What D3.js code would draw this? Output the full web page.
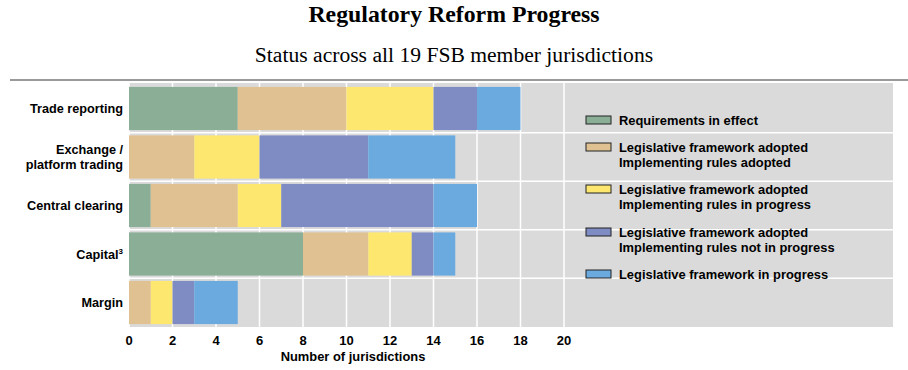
<!DOCTYPE html>
<html>
<head>
<meta charset="utf-8">
<script src="https://cdn.jsdelivr.net/npm/d3@7"></script>
<style>
  body { margin: 0; background: #fff; }
  svg text { font-family: "Liberation Sans", Arial, sans-serif; fill: #000; font-weight: bold; }
  svg text.title { font-family: "Liberation Serif", "Times New Roman", serif; }
</style>
</head>
<body>
<svg id="chart"></svg>
<script>
// Chart data
const categories = ["Trade reporting", "Exchange / platform trading", "Central clearing", "Capital", "Margin"];
const seriesNames = [
  "Requirements in effect",
  "Legislative framework adopted Implementing rules adopted",
  "Legislative framework adopted Implementing rules in progress",
  "Legislative framework adopted Implementing rules not in progress",
  "Legislative framework in progress"
];
const inEffect = [5, 0, 1, 8, 0];
const rulesAdopted = [5, 3, 4, 3, 1];
const rulesInProgress = [4, 3, 2, 2, 1];
const rulesNotInProgress = [2, 5, 7, 1, 1];
const frameworkInProgress = [2, 4, 2, 1, 2];
const xTicks = [0, 2, 4, 6, 8, 10, 12, 14, 16, 18, 20];

const colors = ["#8aae96", "#e0c192", "#fde76e", "#7f8bc3", "#6aaadf"];

const width = 908;
const height = 370;

const svg = d3.select("#chart").attr("width", width).attr("height", height);

// Titles
svg.append("text")
  .attr("class", "title")
  .attr("x", 454)
  .attr("y", 22)
  .attr("text-anchor", "middle")
  .style("font-size", "23.8px")
  .text("Regulatory Reform Progress");

svg.append("text")
  .attr("class", "title")
  .attr("x", 454)
  .attr("y", 62)
  .attr("text-anchor", "middle")
  .style("font-size", "21.6px")
  .style("font-weight", "normal")
  .text("Status across all 19 FSB member jurisdictions");

// Separator line
svg.append("line")
  .attr("x1", 10).attr("x2", 908)
  .attr("y1", 80).attr("y2", 80)
  .attr("stroke", "#9a9a9a")
  .attr("stroke-width", 2);

// Scales
const x = d3.scaleLinear().domain([0, 20]).range([129, 564]);
const y = d3.scaleBand()
  .domain(categories)
  .range([84, 327])
  .paddingInner(0.11)
  .paddingOuter(0.06);

// Plot background (extends under the legend)
svg.append("rect")
  .attr("x", x(0))
  .attr("y", 83)
  .attr("width", 893 - x(0))
  .attr("height", 327 - 83)
  .attr("fill", "#dadada");

// Vertical gridlines
svg.append("g")
  .selectAll("line")
  .data(xTicks)
  .enter()
  .append("line")
  .attr("x1", (d) => x(d)).attr("x2", (d) => x(d))
  .attr("y1", 83).attr("y2", 327)
  .attr("stroke", "#fff")
  .attr("stroke-width", 1.5);

// Horizontal gridlines between categories
const gap = y.step() * y.paddingInner();
svg.append("g")
  .selectAll("line")
  .data(categories.slice(1))
  .enter()
  .append("line")
  .attr("x1", x(0)).attr("x2", 893)
  .attr("y1", (d) => y(d) - gap / 2)
  .attr("y2", (d) => y(d) - gap / 2)
  .attr("stroke", "#fff")
  .attr("stroke-width", 1.5);

// Stacked bars
const rows = categories.map((c, i) => ({
  category: c,
  s0: inEffect[i],
  s1: rulesAdopted[i],
  s2: rulesInProgress[i],
  s3: rulesNotInProgress[i],
  s4: frameworkInProgress[i]
}));
const stacked = d3.stack().keys(["s0", "s1", "s2", "s3", "s4"])(rows);

svg.append("g")
  .selectAll("g")
  .data(stacked)
  .enter()
  .append("g")
  .attr("fill", (d, i) => colors[i])
  .selectAll("rect")
  .data((d) => d)
  .enter()
  .append("rect")
  .attr("x", (d) => x(d[0]))
  .attr("y", (d) => y(d.data.category))
  .attr("width", (d) => x(d[1]) - x(d[0]))
  .attr("height", y.bandwidth());

// Category labels
const labelGroup = svg.append("g").style("font-size", "12.7px");
categories.forEach((c) => {
  const cy = y(c) + y.bandwidth() / 2;
  const t = labelGroup.append("text")
    .attr("x", 123)
    .attr("y", cy + 4.5)
    .attr("text-anchor", "end");
  if (c === "Exchange / platform trading") {
    t.attr("y", null);
    t.append("tspan").attr("x", 123).attr("y", cy - 2.5).text("Exchange /");
    t.append("tspan").attr("x", 123).attr("y", cy + 12.5).text("platform trading");
  } else if (c === "Capital") {
    t.append("tspan").text("Capital");
    t.append("tspan").attr("dy", -5).style("font-size", "8px").text("3");
  } else {
    t.text(c);
  }
});

// X axis labels
svg.append("g")
  .style("font-size", "13px")
  .selectAll("text")
  .data(xTicks)
  .enter()
  .append("text")
  .attr("x", (d) => x(d))
  .attr("y", 345)
  .attr("text-anchor", "middle")
  .text((d) => d);

svg.append("text")
  .attr("x", 353)
  .attr("y", 361)
  .attr("text-anchor", "middle")
  .style("font-size", "12.9px")
  .text("Number of jurisdictions");

// Legend
const legendItems = [
  { lines: ["Requirements in effect"], y: 120 },
  { lines: ["Legislative framework adopted", "Implementing rules adopted"], y: 147 },
  { lines: ["Legislative framework adopted", "Implementing rules in progress"], y: 189 },
  { lines: ["Legislative framework adopted", "Implementing rules not in progress"], y: 232 },
  { lines: ["Legislative framework in progress"], y: 274 }
];

const legend = svg.append("g").style("font-size", "12.9px");
legendItems.forEach((item, i) => {
  legend.append("rect")
    .attr("x", 586)
    .attr("y", item.y - 4)
    .attr("width", 25)
    .attr("height", 8)
    .attr("fill", colors[i])
    .attr("stroke", "#222")
    .attr("stroke-width", 1);
  item.lines.forEach((line, j) => {
    legend.append("text")
      .attr("x", 619)
      .attr("y", item.y + 4.5 + j * 15)
      .text(line);
  });
});
</script>
</body>
</html>
